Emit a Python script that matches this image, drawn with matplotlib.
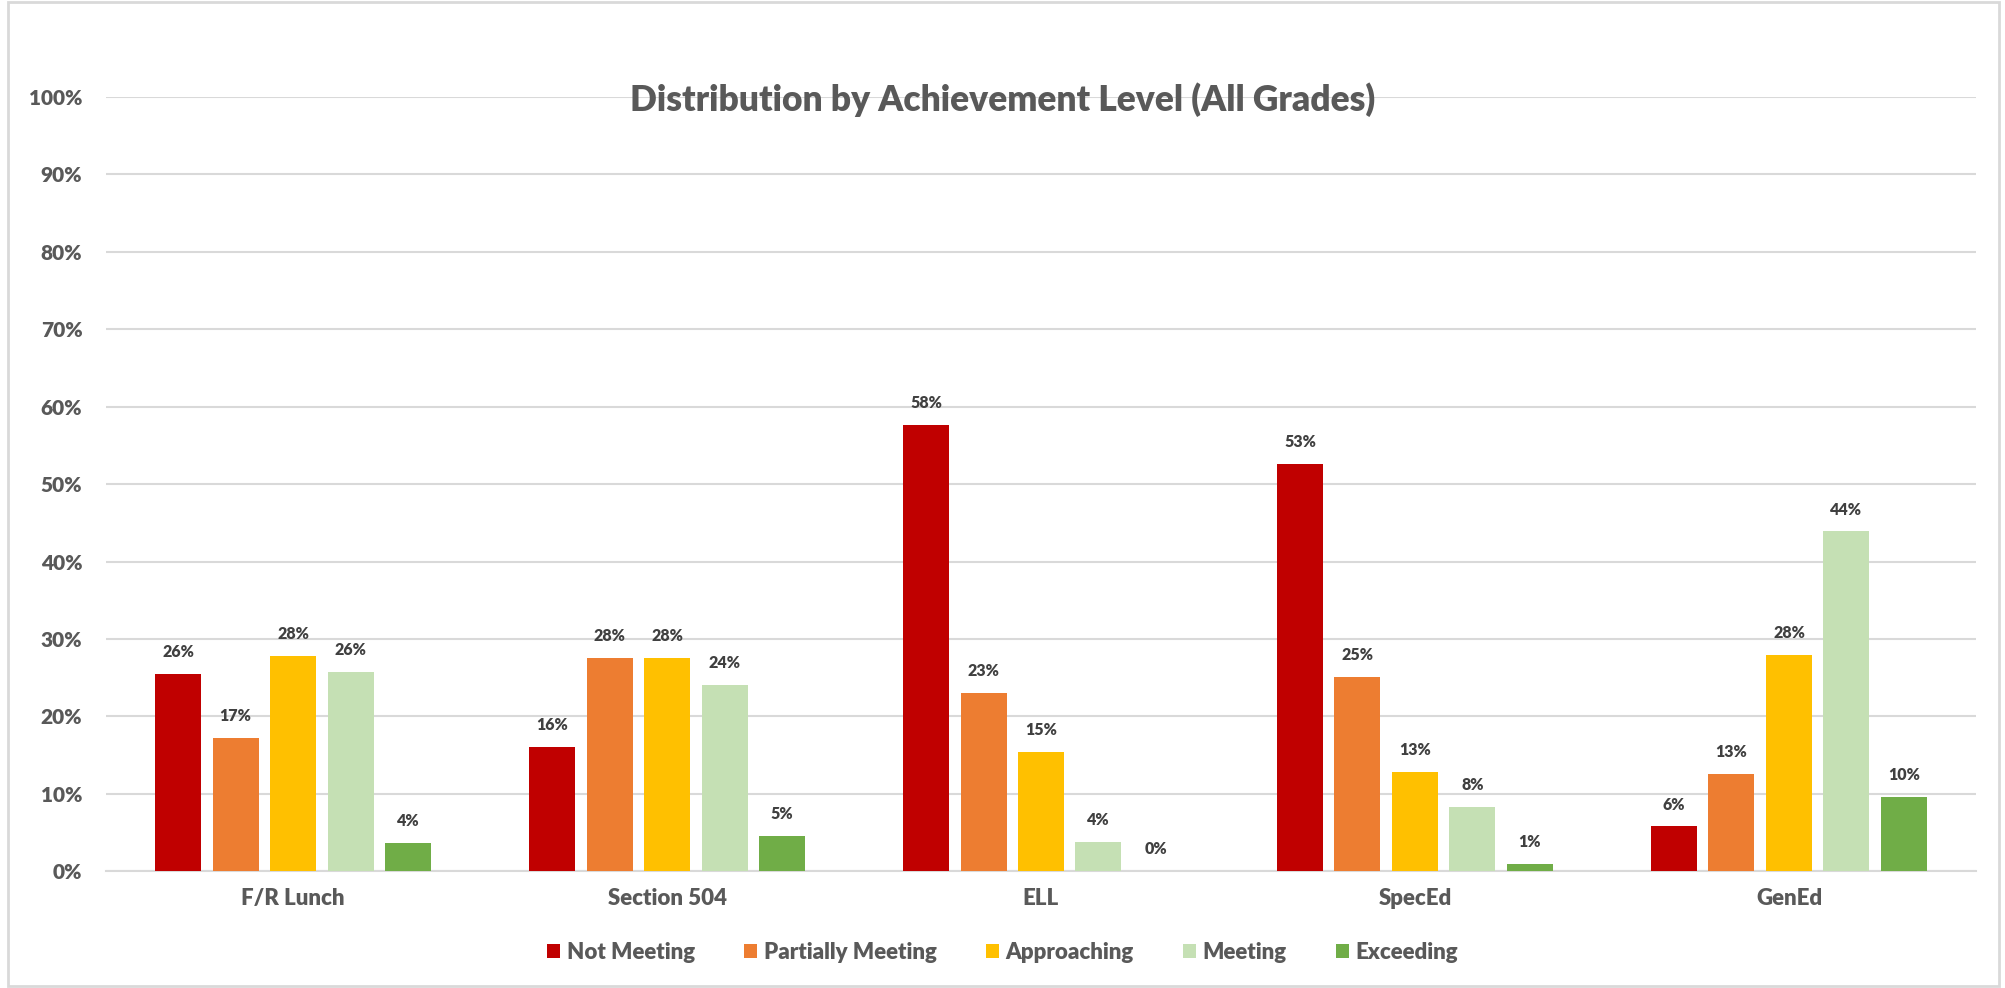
import numpy as np
import matplotlib.pyplot as plt
from matplotlib.patches import Rectangle
from matplotlib.ticker import PercentFormatter

# --- data ---
groups = ['F/R Lunch', 'Section 504', 'ELL', 'SpecEd', 'GenEd']
levels = ['Not Meeting', 'Partially Meeting', 'Approaching', 'Meeting', 'Exceeding']
not_meeting = [25.5, 16.1, 57.7, 52.6, 5.8]
partially_meeting = [17.2, 27.6, 23.0, 25.1, 12.6]
approaching = [27.8, 27.6, 15.4, 12.8, 27.9]
meeting = [25.8, 24.1, 3.8, 8.3, 43.9]
exceeding = [3.7, 4.6, 0.0, 0.9, 9.6]
series = [not_meeting, partially_meeting, approaching, meeting, exceeding]
colors = ['#C00000', '#ED7D31', '#FFC000', '#C5E0B4', '#70AD47']

plt.rcParams['font.family'] = ['Lato', 'DejaVu Sans']
W = 'heavy'

fig = plt.figure(figsize=(20.05, 9.88), dpi=100)
ax = fig.add_axes([0.0529, 0.1181, 0.9326, 0.7837])

x = np.arange(len(groups))
pitch = 0.1537
width = 0.123
for i, (vals, name, c) in enumerate(zip(series, levels, colors)):
    pos = x + (i - 2) * pitch
    bars = ax.bar(pos, vals, width=width, color=c, label=name, zorder=3)
    for b, v in zip(bars, vals):
        ax.annotate(f'{v:.0f}%', (b.get_x() + b.get_width() / 2, v),
                    xytext=(0, 10), textcoords='offset points',
                    ha='center', va='bottom', fontsize=11.5,
                    fontweight=W, color='#404040')

ax.set_xlim(-0.5, 4.5)
ax.set_ylim(0, 100)
ax.set_yticks(np.arange(0, 101, 10))
ax.yaxis.set_major_formatter(PercentFormatter(decimals=0))
ax.set_xticks(x)
ax.set_xticklabels(groups)
ax.grid(axis='y', color='#D9D9D9', linewidth=1.5, zorder=0)
for s in ['top', 'right', 'left']:
    ax.spines[s].set_visible(False)
ax.spines['bottom'].set_color('#D9D9D9')
ax.spines['bottom'].set_linewidth(1.5)
ax.tick_params(axis='y', length=0, pad=17, labelsize=15, labelcolor='#595959')
ax.tick_params(axis='x', length=0, pad=12, labelsize=16, labelcolor='#595959')
for lab in ax.get_xticklabels() + ax.get_yticklabels():
    lab.set_fontweight(W)

fig.text(0.5, 0.899, 'Distribution by Achievement Level (All Grades)',
         ha='center', va='center', fontsize=25.5, fontweight=W, color='#595959')

leg = fig.legend(loc='center', bbox_to_anchor=(0.5, 0.036), ncol=5, frameon=False,
                 prop={'size': 16, 'weight': W}, handlelength=0.6,
                 handleheight=0.6, handletextpad=0.3, columnspacing=2.2)
for t in leg.get_texts():
    t.set_color('#595959')

# chart border
fig.patches.append(Rectangle((0.004, 0.002), 0.993, 0.996, transform=fig.transFigure,
                             fill=False, edgecolor='#D9D9D9', linewidth=2))

fig.savefig('out.png', dpi=100)
